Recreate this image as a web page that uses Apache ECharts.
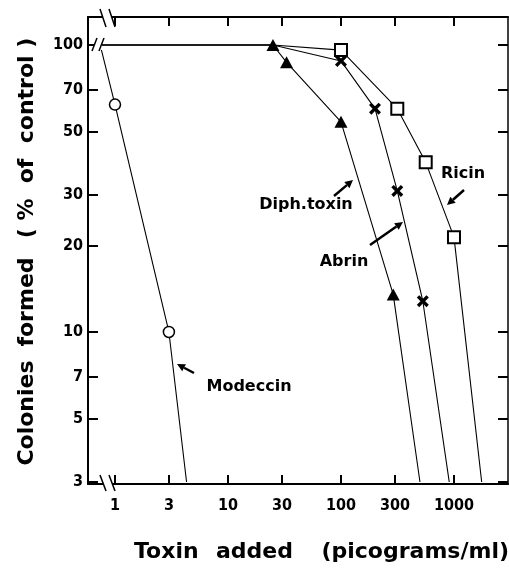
<!DOCTYPE html>
<html><head><meta charset="utf-8">
<script src="https://cdn.jsdelivr.net/npm/echarts@6/dist/echarts.min.js"></script>
<style>html,body{margin:0;padding:0;background:#fff}#c{width:509px;height:572px}</style>
</head><body><div id="c"></div>
<script>
// ---- data ----
const xTicks = [1, 3, 10, 30, 100, 300, 1000];
const yTicks = [3, 5, 7, 10, 20, 30, 50, 70, 100];
const controlX = 0.74; // control (no toxin) drawn at the axis break
const modeccinX = [controlX, 1, 3, 4.3];
const modeccinY = [100, 62, 10, 3];
const modeccinMarked = [1, 2];
const diphX = [controlX, 25, 33, 100, 290, 500];
const diphY = [100, 100, 87, 54, 13.5, 3];
const diphMarked = [1, 2, 3, 4];
const abrinX = [controlX, 25, 100, 200, 315, 530, 908];
const abrinY = [100, 100, 88, 60, 31, 12.8, 3];
const abrinMarked = [2, 3, 4, 5];
const ricinX = [controlX, 25, 100, 315, 562, 1000, 1758];
const ricinY = [100, 100, 96, 60, 39, 21.4, 3];
const ricinMarked = [2, 3, 4, 5];

const chart = echarts.init(document.getElementById('c'));
const X_MIN = 0.577, X_MAX = 3006, Y_MIN = 2.953, Y_MAX = 125.2;
const TICKFONT = {fontFamily: '"Liberation Sans Narrow", "DejaVu Sans Condensed", "Liberation Sans"', fontWeight: 'bold', fontSize: 16, color: '#000', formatter: v => String(v)};
const crossPath = 'path://M2,0 L5,3 L8,0 L10,2 L7,5 L10,8 L8,10 L5,7 L2,10 L0,8 L3,5 L0,2 Z';

function mk(name, xs, ys, marked, sym, size, itemStyle) {
  return {
    type: 'line', name: name,
    data: xs.map((x, i) => ({value: [x, ys[i]], symbol: marked.includes(i) ? sym : 'none', symbolSize: size})),
    showAllSymbol: true, symbolKeepAspect: true,
    lineStyle: {color: '#000', width: 1.1},
    itemStyle: itemStyle, emphasis: {disabled: true},
    clip: true, animation: false, z: 3
  };
}

function axisX(pos, showLabel) {
  return {
    type: 'log', logBase: 10, min: X_MIN, max: X_MAX, position: pos,
    axisLine: {show: true, lineStyle: {color: '#000', width: 2}},
    axisTick: {show: true, inside: true, length: 9, lineStyle: {color: '#000', width: 2}, customValues: xTicks},
    axisLabel: Object.assign({show: showLabel, margin: 14, customValues: xTicks}, TICKFONT),
    splitLine: {show: false}, minorTick: {show: false}
  };
}
function axisY(pos, showLabel, w) {
  return {
    type: 'log', logBase: 10, min: Y_MIN, max: Y_MAX, position: pos,
    axisLine: {show: true, lineStyle: {color: '#000', width: w}},
    axisTick: {show: true, inside: true, length: 10, lineStyle: {color: '#000', width: 2}, customValues: yTicks},
    axisLabel: Object.assign({show: showLabel, margin: 5, customValues: yTicks}, TICKFONT),
    splitLine: {show: false}, minorTick: {show: false}
  };
}

function arrow(x1, y1, x2, y2) {
  const dx = x2 - x1, dy = y2 - y1, L = Math.hypot(dx, dy);
  const ux = dx / L, uy = dy / L, hl = 8, hw = 4;
  const bx = x2 - ux * hl, by = y2 - uy * hl;
  return [
    {type: 'line', shape: {x1: x1, y1: y1, x2: bx, y2: by}, style: {stroke: '#000', lineWidth: 2.5}, z: 10},
    {type: 'polygon', shape: {points: [[x2, y2], [bx - uy * hw, by + ux * hw], [bx + uy * hw, by - ux * hw]]}, style: {fill: '#000'}, z: 10}
  ];
}
function txt(t, x, y, size, align, rot) {
  return {type: 'text', x: x, y: y, rotation: rot || 0, z: 10,
    style: {text: t, fill: '#000', font: 'bold ' + size + 'px "DejaVu Sans"', textAlign: align || 'center', textVerticalAlign: 'middle'}};
}
function seg(x1, y1, x2, y2, w) {
  return {type: 'line', shape: {x1: x1, y1: y1, x2: x2, y2: y2}, style: {stroke: '#000', lineWidth: w || 1.5}, z: 20};
}
function wrect(x, y, w, h) {
  return {type: 'rect', shape: {x: x, y: y, width: w, height: h}, style: {fill: '#fff'}, z: 19};
}

const graphics = [].concat(
  // axis-break marks
  [wrect(103, 12, 9, 10), seg(100, 9, 106, 27), seg(109, 9, 115, 27)],
  [wrect(103, 479, 9, 10), seg(100, 475, 106, 491), seg(109, 475, 115, 491)],
  [wrect(94, 40, 8, 10), seg(92, 51, 97, 38), seg(99, 51, 104, 38)],
  // labels
  [txt('Modeccin', 249, 387, 16), txt('Diph.toxin', 306, 205, 16), txt('Abrin', 344, 262, 16), txt('Ricin', 463, 174, 16)],
  arrow(194, 373, 177, 364), arrow(334, 196, 353, 180), arrow(370, 245, 403, 222), arrow(464, 190, 447, 205),
  // axis titles
  [txt('Toxin', 134, 552, 22, 'left'), txt('added', 216, 552, 22, 'left'), txt('(picograms/ml)', 509, 552, 22, 'right')],
  [txt('Colonies', 27, 413, 22, 'center', Math.PI / 2), txt('formed', 27, 302, 22, 'center', Math.PI / 2),
   txt('( %  of  control )', 27, 138, 22, 'center', Math.PI / 2)]
);

chart.setOption({
  animation: false,
  backgroundColor: '#fff',
  grid: {left: 88, right: 1, top: 17, bottom: 88, containLabel: false},
  xAxis: [axisX('bottom', true), axisX('top', false)],
  yAxis: [axisY('left', true, 2), axisY('right', false, 1.5)],
  series: [
    mk('Modeccin', modeccinX, modeccinY, modeccinMarked, 'circle', 11, {color: '#fff', borderColor: '#000', borderWidth: 1.5}),
    mk('Diph.toxin', diphX, diphY, diphMarked, 'triangle', [13, 12], {color: '#000', borderWidth: 0}),
    mk('Abrin', abrinX, abrinY, abrinMarked, crossPath, 12, {color: '#000', borderWidth: 0}),
    mk('Ricin', ricinX, ricinY, ricinMarked, 'rect', 12, {color: '#fff', borderColor: '#000', borderWidth: 2})
  ],
  graphic: graphics
});
</script>
</body></html>
